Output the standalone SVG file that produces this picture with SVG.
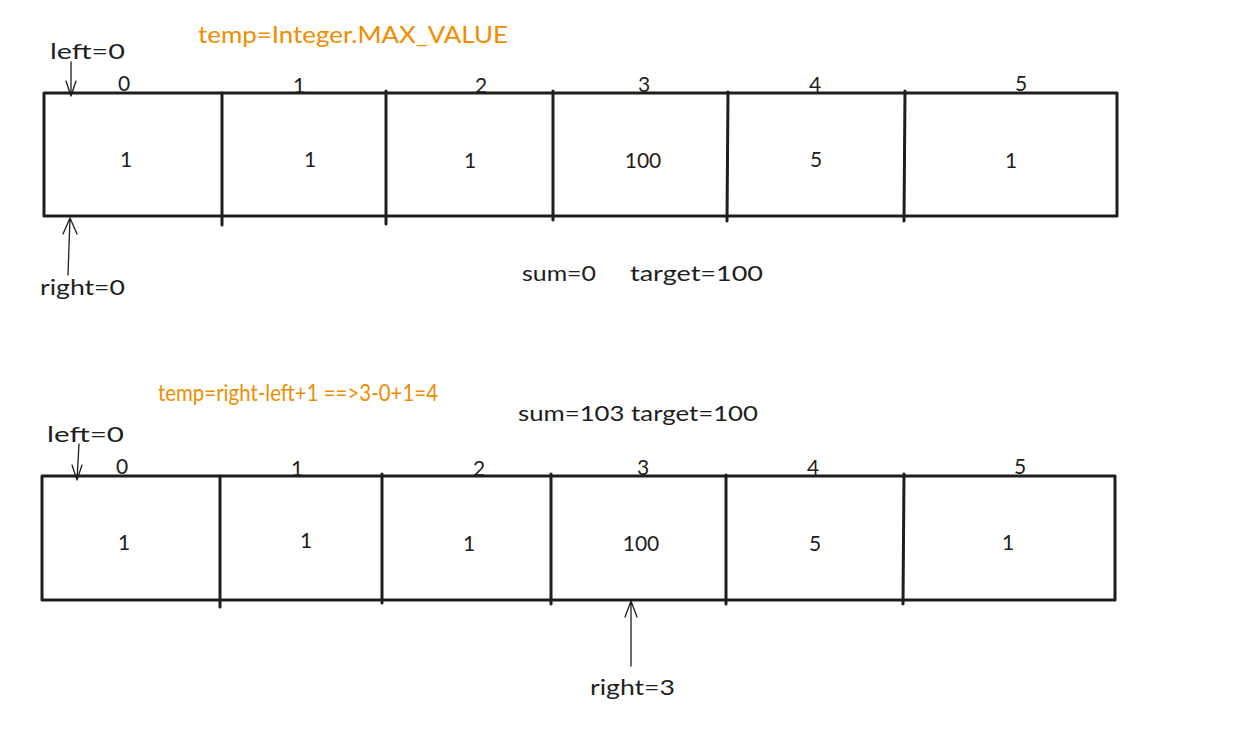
<svg xmlns="http://www.w3.org/2000/svg" width="1242" height="739" viewBox="0 0 1242 739">
<defs>
<style>
.box{fill:none;stroke:#1e1e1e;stroke-width:3;stroke-linejoin:round}
.div{stroke:#1e1e1e;stroke-width:3;stroke-linecap:round}
.arr{stroke:#1e1e1e;stroke-width:1.3;fill:none;stroke-linecap:round;stroke-linejoin:round}
.t{font-family:"Lato","Liberation Sans",sans-serif;font-size:21px;fill:#1e1e1e}
.v{font-family:"Lato","Liberation Sans",sans-serif;font-size:21px;fill:#1e1e1e;text-anchor:middle}
.i{font-family:"Lato","Liberation Sans",sans-serif;font-size:21px;fill:#1e1e1e;text-anchor:middle}
.o{font-family:"Lato","Liberation Sans",sans-serif;font-size:23px;fill:#f08c00}
</style>
</defs>
<rect width="1242" height="739" fill="#ffffff"/>

<g id="array1">
<rect class="box" x="44" y="93" width="1073" height="123"/>
<line class="div" x1="222" y1="93" x2="222" y2="225"/>
<line class="div" x1="386" y1="91" x2="386" y2="224"/>
<line class="div" x1="553" y1="91" x2="553" y2="220"/>
<line class="div" x1="728" y1="92" x2="727" y2="221"/>
<line class="div" x1="905" y1="91" x2="904" y2="221"/>
<text class="i" x="124" y="91">0</text>
<text class="i" x="299" y="93">1</text>
<text class="i" x="481" y="93">2</text>
<text class="i" x="644" y="92">3</text>
<text class="i" x="815" y="92">4</text>
<text class="i" x="1021" y="91">5</text>
<text class="v" x="126" y="167">1</text>
<text class="v" x="310" y="167">1</text>
<text class="v" x="470" y="168">1</text>
<text class="v" x="643" y="168">100</text>
<text class="v" x="816" y="167">5</text>
<text class="v" x="1011" y="168">1</text>
</g>

<g id="array2">
<rect class="box" x="42" y="476" width="1073" height="124"/>
<line class="div" x1="220" y1="476" x2="220" y2="607"/>
<line class="div" x1="382" y1="474" x2="382" y2="603"/>
<line class="div" x1="551" y1="474" x2="551" y2="604"/>
<line class="div" x1="726" y1="475" x2="726" y2="604"/>
<line class="div" x1="904" y1="474" x2="903" y2="604"/>
<text class="i" x="122" y="474">0</text>
<text class="i" x="297" y="476">1</text>
<text class="i" x="479" y="476">2</text>
<text class="i" x="643" y="475">3</text>
<text class="i" x="813" y="475">4</text>
<text class="i" x="1020" y="474">5</text>
<text class="v" x="124" y="550">1</text>
<text class="v" x="306" y="548">1</text>
<text class="v" x="469" y="551">1</text>
<text class="v" x="641" y="551">100</text>
<text class="v" x="815" y="551">5</text>
<text class="v" x="1008" y="550">1</text>
</g>

<g id="labels">
<text class="o" x="198" y="43" textLength="310" lengthAdjust="spacingAndGlyphs">temp=Integer.MAX_VALUE</text>
<text class="t" x="50" y="59" textLength="75" lengthAdjust="spacingAndGlyphs">left=0</text>
<text class="t" x="40" y="295" textLength="85" lengthAdjust="spacingAndGlyphs">right=0</text>
<text class="t" x="522" y="281" textLength="74" lengthAdjust="spacingAndGlyphs">sum=0</text>
<text class="t" x="630" y="281" textLength="133" lengthAdjust="spacingAndGlyphs">target=100</text>
<text class="o" x="158" y="401" textLength="280" lengthAdjust="spacingAndGlyphs">temp=right-left+1 ==&gt;3-0+1=4</text>
<text class="t" x="518" y="421" textLength="240" lengthAdjust="spacingAndGlyphs">sum=103 target=100</text>
<text class="t" x="47" y="442" textLength="77" lengthAdjust="spacingAndGlyphs">left=0</text>
<text class="t" x="590" y="695" textLength="85" lengthAdjust="spacingAndGlyphs">right=3</text>
</g>

<g id="connectors">
<path class="arr" d="M71 62 L71 96 M66 81 L71 96 L76 81"/>
<path class="arr" d="M68 275 L70 218 M63 234 L70 218 L77 234"/>
<path class="arr" d="M79 444 L77 480 M72 465 L77 480 L82 465"/>
<path class="arr" d="M631 666 L631 601 M625 617 L631 601 L637 617"/>
</g>
</svg>
